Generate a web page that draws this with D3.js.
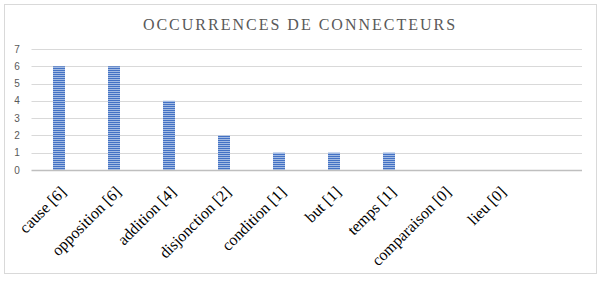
<!DOCTYPE html>
<html>
<head>
<meta charset="utf-8">
<script src="https://cdn.jsdelivr.net/npm/d3@7"></script>
<style>
  body { margin: 0; background: #fff; }
  svg { display: block; }
</style>
</head>
<body>
<svg id="chart"></svg>
<script>
const categories = ["cause", "opposition", "addition", "disjonction", "condition", "but", "temps", "comparaison", "lieu"];
const values = [6, 6, 4, 2, 1, 1, 1, 0, 0];
const yTicks = [0, 1, 2, 3, 4, 5, 6, 7];
const title = "OCCURRENCES DE CONNECTEURS";

const width = 603, height = 281;
const plotLeft = 31.5, bandStep = 55, plotRight = 582;

const svg = d3.select("#chart")
    .attr("width", width)
    .attr("height", height);

// striped fill like the original
let defs = svg.append("defs");
let pat = defs.append("pattern")
    .attr("id", "stripes")
    .attr("patternUnits", "userSpaceOnUse")
    .attr("width", 4)
    .attr("height", 2);
pat.append("rect").attr("width", 4).attr("height", 2).attr("fill", "#a3bbe3");
pat.append("rect").attr("width", 4).attr("height", 1).attr("fill", "#4472c4");

svg.append("rect")
    .attr("x", 4.5).attr("y", 4.5)
    .attr("width", 592).attr("height", 269)
    .attr("fill", "#fff")
    .attr("stroke", "#d9d9d9");

svg.append("text")
    .attr("x", 300)
    .attr("y", 30)
    .attr("text-anchor", "middle")
    .attr("font-family", "Liberation Serif, serif")
    .attr("font-size", 16)
    .attr("letter-spacing", 2)
    .attr("fill", "#595959")
    .text(title);

let x = d3.scaleBand()
    .domain(categories)
    .range([plotLeft, plotLeft + bandStep * categories.length]);

let y = d3.scaleLinear()
    .domain([0, 7])
    .range([170, 49]);

// gridlines
svg.append("g")
    .selectAll("line")
    .data(yTicks.filter(d => d > 0))
    .join("line")
    .attr("x1", plotLeft)
    .attr("x2", plotRight)
    .attr("y1", d => Math.round(y(d)) + 0.5)
    .attr("y2", d => Math.round(y(d)) + 0.5)
    .attr("stroke", "#d9d9d9")
    .attr("stroke-width", 1);

// y labels
svg.append("g")
    .selectAll("text")
    .data(yTicks)
    .join("text")
    .attr("x", 17)
    .attr("y", d => y(d) + 3.5)
    .attr("text-anchor", "middle")
    .attr("font-family", "Liberation Sans, Arial, sans-serif")
    .attr("font-size", 10)
    .attr("fill", "#595959")
    .text(d => d);

// bars
const barW = 12;
svg.append("g")
    .selectAll("rect")
    .data(categories.map((c, i) => ({name: c, value: values[i]})))
    .join("rect")
    .attr("x", d => x(d.name) + x.bandwidth() / 2 - barW / 2)
    .attr("y", d => y(d.value))
    .attr("width", barW)
    .attr("height", d => y(0) - y(d.value))
    .attr("fill", "url(#stripes)");

// baseline
svg.append("line")
    .attr("x1", plotLeft)
    .attr("x2", plotRight)
    .attr("y1", y(0) + 0.5)
    .attr("y2", y(0) + 0.5)
    .attr("stroke", "#bfbfbf")
    .attr("stroke-width", 1.5);

// x labels, rotated 45 degrees
svg.append("g")
    .selectAll("text")
    .data(categories.map((c, i) => c + " [" + values[i] + "]"))
    .join("text")
    .attr("transform", (d, i) => {
        let cx = x(categories[i]) + x.bandwidth() / 2 + 8;
        return "translate(" + cx + "," + 193 + ") rotate(-45)";
    })
    .attr("text-anchor", "end")
    .attr("font-family", "Liberation Serif, serif")
    .attr("font-size", 16)
    .attr("fill", "#000")
    .text(d => d);
</script>
</body>
</html>
